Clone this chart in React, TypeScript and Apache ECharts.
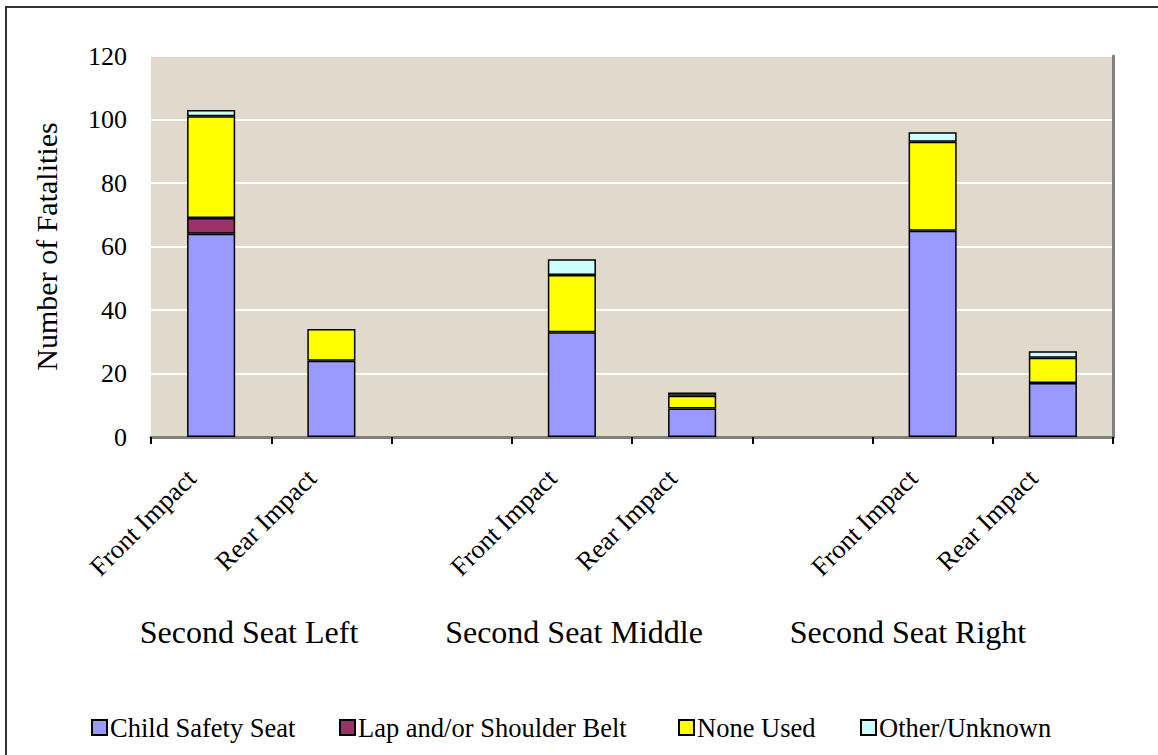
import React, { useEffect, useRef } from "react";
import * as echarts from "echarts";

const categories = ["Front Impact", "Rear Impact", "", "Front Impact", "Rear Impact", "", "Front Impact", "Rear Impact"];
const childSafetySeat = [64, 24, null, 33, 9, null, 65, 17];
const lapShoulderBelt = [5, null, null, null, null, null, null, null];
const noneUsed = [32, 10, null, 18, 4, null, 28, 8];
const otherUnknown = [2, null, null, 5, 1, null, 3, 2];
const groupLabels = ["Second Seat Left", "Second Seat Middle", "Second Seat Right"];
const groupLabelX = [249, 574, 908];
const legendLeft = [86, 334, 673, 855];
const yTicks = { min: 0, max: 120, interval: 20 };

const FONT = "'Liberation Serif', 'Times New Roman', serif";

export default function App() {
  const ref = useRef<HTMLDivElement>(null);
  useEffect(() => {
    document.body.style.margin = "0";
    const chart = echarts.init(ref.current!, null, { renderer: "svg" });
    const seriesDefs = [
      { name: "Child Safety Seat", data: childSafetySeat, color: "#9999FF" },
      { name: "Lap and/or Shoulder Belt", data: lapShoulderBelt, color: "#993366" },
      { name: "None Used", data: noneUsed, color: "#FFFF00" },
      { name: "Other/Unknown", data: otherUnknown, color: "#CCFFFF" },
    ];
    chart.setOption({
      animation: false,
      backgroundColor: "#ffffff",
      textStyle: { fontFamily: FONT, color: "#000" },
      grid: {
        left: 151,
        right: 45,
        top: 56,
        bottom: 318,
        show: true,
        backgroundColor: "#E2D9CD",
        borderWidth: 0,
      },
      legend: seriesDefs.map((s, i) => ({
        left: legendLeft[i],
        top: 709,
        icon: "rect",
        itemWidth: 15,
        itemHeight: 15,
        textStyle: { fontSize: 26.5, fontFamily: FONT, color: "#000", padding: [0, 0, 0, -2] },
        itemStyle: { borderColor: "#000", borderWidth: 2 },
        data: [s.name],
      })),
      xAxis: [
        {
          type: "category",
          data: categories,
          axisLine: { lineStyle: { color: "#000", width: 2 } },
          axisTick: { show: true, length: 7, lineStyle: { color: "#000", width: 2 } },
          axisLabel: {
            interval: 0,
            rotate: 45,
            margin: 17,
            fontSize: 26.5,
            fontFamily: FONT,
            color: "#000",
            padding: [0, 28, 0, 0],
          },
        },
        {
          type: "category",
          data: categories,
          position: "top",
          axisLine: { show: true, lineStyle: { color: "#808080", width: 3 } },
          axisTick: { show: false },
          axisLabel: { show: false },
        },
      ],
      yAxis: [
        {
          type: "value",
          min: yTicks.min,
          max: yTicks.max,
          interval: yTicks.interval,
          name: "Number of Fatalities",
          nameLocation: "middle",
          nameRotate: 90,
          nameGap: 90,
          nameTextStyle: { fontSize: 30, fontFamily: FONT, color: "#000" },
          axisLine: { show: false },
          axisTick: { show: false },
          axisLabel: { fontSize: 26, fontFamily: FONT, color: "#000", margin: 24 },
          splitLine: { show: true, lineStyle: { color: "#ffffff", width: 2 } },
        },
        {
          type: "value",
          min: yTicks.min,
          max: yTicks.max,
          interval: yTicks.interval,
          position: "right",
          axisLine: { show: true, lineStyle: { color: "#808080", width: 3 } },
          axisTick: { show: false },
          axisLabel: { show: false },
          splitLine: { show: false },
        },
      ],
      series: seriesDefs.map((s) => ({
        name: s.name,
        type: "bar",
        stack: "total",
        data: s.data,
        barWidth: "40%",
        itemStyle: { color: s.color, borderColor: "#000", borderWidth: 1.5 },
      })),
      graphic: [
        {
          type: "rect",
          shape: { x: 6, y: 7, width: 1300, height: 900 },
          style: { fill: "none", stroke: "#333", lineWidth: 2 },
          silent: true,
        },
        ...groupLabels.map((t, i) => ({
          type: "text",
          x: groupLabelX[i],
          y: 632,
          style: {
            text: t,
            fontSize: 32,
            fontFamily: FONT,
            fill: "#000",
            textAlign: "center",
            textVerticalAlign: "middle",
          },
        })),
      ],
    });
    return () => chart.dispose();
  }, []);
  return <div ref={ref} style={{ position: "fixed", left: 0, top: 0, width: 1158, height: 755 }} />;
}
